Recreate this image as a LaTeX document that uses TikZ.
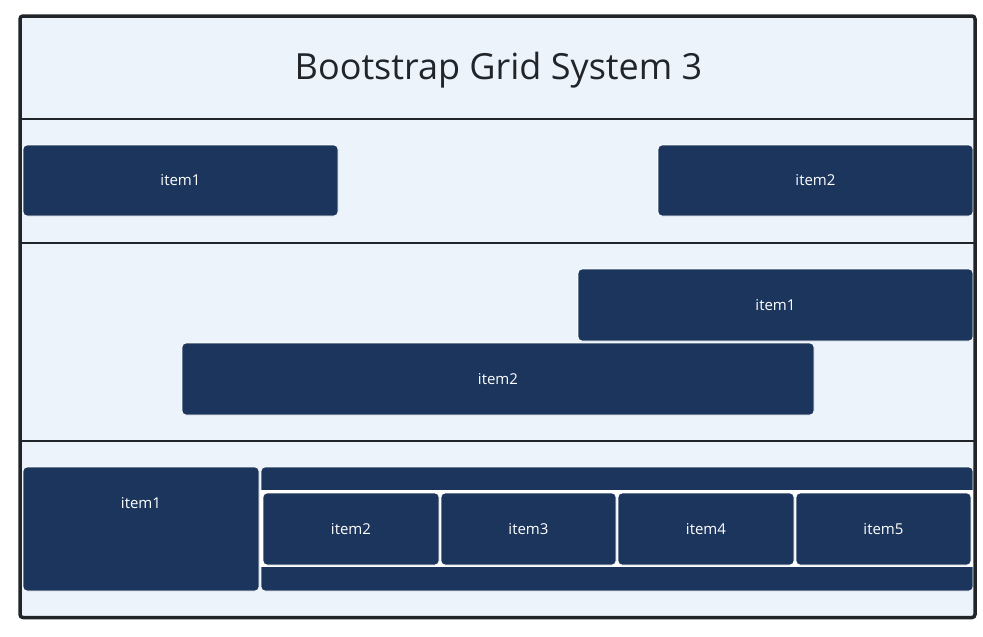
\documentclass[tikz,border=0pt]{standalone}
\usepackage{fontspec}
\setmainfont{Open Sans}
\definecolor{bgc}{HTML}{ECF3FB}
\definecolor{navy}{HTML}{1B355C}
\definecolor{frame}{HTML}{212529}
\begin{document}
\begin{tikzpicture}[x=1pt,y=-1pt,
  box/.style={anchor=north west, fill=navy, draw=white, line width=0.8pt, rounded corners=4pt,
    inner sep=0pt, outer sep=0pt, text=white, font=\fontsize{15}{18}\selectfont},
  divider/.style={draw=frame, line width=2pt},
  itemtext/.style={text=white, font=\fontsize{15}{18}\selectfont}]
\useasboundingbox (0,0) rectangle (983,637);
\fill[white] (0,0) rectangle (983,637);
% frame
\path[fill=bgc] (20,16) rectangle (975,617.5);
\node[anchor=base, font=\fontsize{36}{40}\selectfont, text=frame] (title) at (498.5,79.3) {Bootstrap Grid System 3};
\coordinate (d1l) at (20,119); \coordinate (d1r) at (975,119);
\coordinate (d2l) at (20,243); \coordinate (d2r) at (975,243);
\coordinate (d3l) at (20,441); \coordinate (d3r) at (975,441);
\draw[divider] (d1l) -- (d1r);
\draw[divider] (d2l) -- (d2r);
\draw[divider] (d3l) -- (d3r);
% row 1
\node[box, minimum width=315pt, minimum height=71pt] (a1) at (23,145) {item1};
\node[box, minimum width=315pt, minimum height=71pt] (a2) at (658,145) {item2};
% row 2
\node[box, minimum width=395pt, minimum height=72pt] (b1) at (578,269) {item1};
\node[box, minimum width=632pt, minimum height=72pt] (b2) at (182,343) {item2};
% row 3
\node[box, minimum width=236pt, minimum height=124pt,
  label={[itemtext, anchor=center, yshift=-36pt]north:item1}] (c1) at (23,467) {};
\node[box, minimum width=712pt, minimum height=124pt] (c0) at (261,467) {};
\node[box, fill=white, rounded corners=0pt, line width=1.2pt, minimum width=712pt, minimum height=75pt] (crow) at (261,491) {};
\node[box, minimum width=176pt, minimum height=72pt] (c2) at (263,493) {item2};
\node[box, minimum width=175pt, minimum height=72pt] (c3) at (441,493) {item3};
\node[box, minimum width=176pt, minimum height=72pt] (c4) at (618,493) {item4};
\node[box, minimum width=175pt, minimum height=72pt] (c5) at (796,493) {item5};
\draw[draw=frame, line width=3.5pt, rounded corners=3pt] (20,16) rectangle (975,617.5);
\end{tikzpicture}
\end{document}
